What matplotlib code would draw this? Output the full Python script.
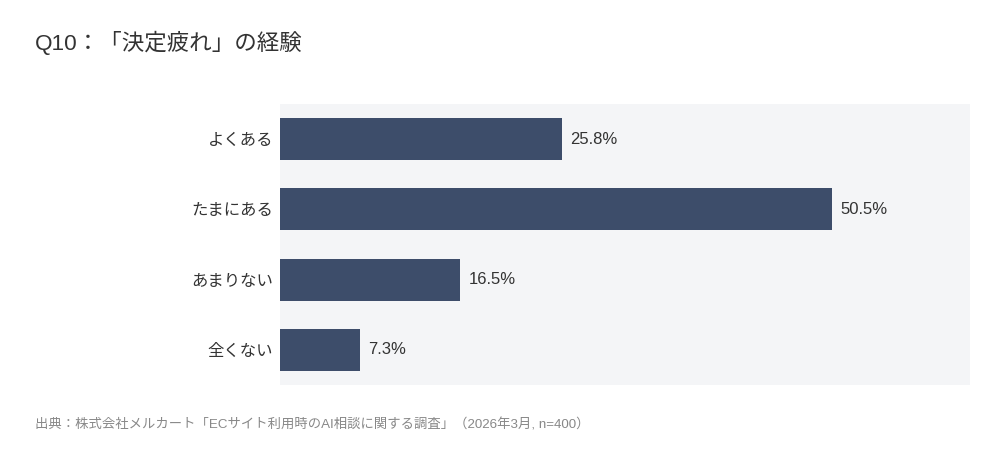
import matplotlib
matplotlib.use("Agg")
import matplotlib.pyplot as plt

plt.rcParams['font.family'] = ['Liberation Sans', 'Noto Sans CJK JP', 'DejaVu Sans']

categories = ["よくある", "たまにある", "あまりない", "全くない"]
values = [25.8, 50.5, 16.5, 7.3]
value_labels = ["25.8%", "50.5%", "16.5%", "7.3%"]
title = "Q10：「決定疲れ」の経験"
source = "出典：株式会社メルカート「ECサイト利用時のAI相談に関する調査」（2026年3月, n=400）"

fig = plt.figure(figsize=(10, 4.57), dpi=100)
fig.patch.set_facecolor("white")
ax = fig.add_axes([0.28, 0.158, 0.69, 0.614])
ax.set_facecolor("#f4f5f7")

y = list(range(len(categories)))
ax.barh(y, values, height=0.6, color="#3d4d6a")
for yi, v, lab in zip(y, values, value_labels):
    ax.text(v + 0.75, yi, lab, va="center", ha="left", fontsize=12, color="#333333")

ax.set_xlim(0, 63.1)
ax.set_ylim(3.5, -0.5)
ax.set_yticks(y)
ax.set_yticklabels(categories, fontsize=11.8, color="#333333")
ax.set_xticks([])
ax.tick_params(axis="y", length=0, pad=5)
for s in ax.spines.values():
    s.set_visible(False)

fig.text(0.035, 0.906, title, fontsize=16.2, color="#333333", va="center", ha="left")
fig.text(0.035, 0.07, source, fontsize=9.6, color="#888888", va="center", ha="left")

fig.savefig("out.png", dpi=100)
